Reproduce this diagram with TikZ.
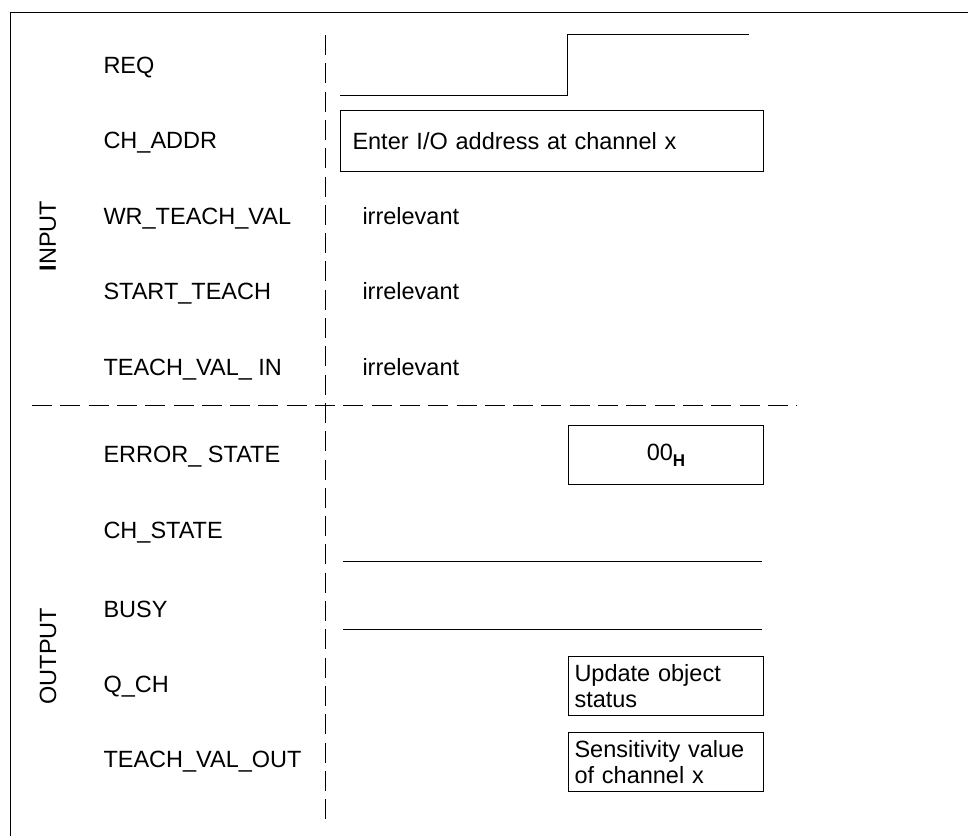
\documentclass[tikz,border=0pt]{standalone}
\usepackage{fontspec}
\setmainfont{Liberation Sans}
\begin{document}
\begin{tikzpicture}[x=1pt,y=-1pt,line width=1pt,
				every node/.style={font=\fontsize{23.5}{26}\selectfont,inner sep=0pt},
				senal/.style={anchor=base west},
				caja/.style={draw,anchor=north west,minimum width=195pt,minimum height=59pt},
				trazo/.style={dash pattern=on 20pt off 8.3pt}]
	      \useasboundingbox (0,0) rectangle (968,836);
	      % marco y divisiones
	      \draw (10,836) -- (10,12) -- (968,12);
	      \draw[trazo] (325,35) -- (325,822);
	      \draw[trazo] (32,405) -- (797,405);
	      % nombres de las senales
	      \node[rotate=90] (entrada) at (48,236) {\textbf{I}NPUT};
	      \node[rotate=90] (salida) at (48,656) {OUTPUT};
	      \foreach \nombre/\y/\texto in {req/73/REQ,chaddr/148/CH\_ADDR,
		  wrteach/224/WR\_TEACH\_VAL,startteach/299/START\_TEACH,
		  teachin/375/TEACH\_VAL\_ IN,errstate/462/ERROR\_ STATE,
		  chstate/538/CH\_STATE,busy/617/BUSY,qch/692/Q\_CH,
		  teachout/767/TEACH\_VAL\_OUT}
		\node[senal] (\nombre) at (103,\y) {\texto};
	      % entradas
	      \draw (340,95) -- (567,95) -- (567,34) -- (749,34);
	      \node[caja,minimum width=423pt,minimum height=61pt,
		  text width=399pt,inner xsep=12pt,align=left] (direccion) at (340,110)
		  {Enter I/O address at channel x};
	      \foreach \nombre/\y in {irr1/224,irr2/299,irr3/375}
		\node[senal] (\nombre) at (362,\y) {irrelevant};
	      % salidas
	      \node[caja] (error) at (568,425)
		  {00\raisebox{-6pt}{\fontsize{17}{17}\selectfont\bfseries H}};
	      \draw (343,561) -- (762,561);
	      \draw (343,629) -- (762,629);
	      \node[caja,text width=183pt,inner xsep=6pt,align=left] (estado) at (568,656)
		  {Update object\\ status};
	      \node[caja,text width=183pt,inner xsep=6pt,align=left] (sensib) at (568,732)
		  {Sensitivity value\\ of channel x};
\end{tikzpicture}
\end{document}
